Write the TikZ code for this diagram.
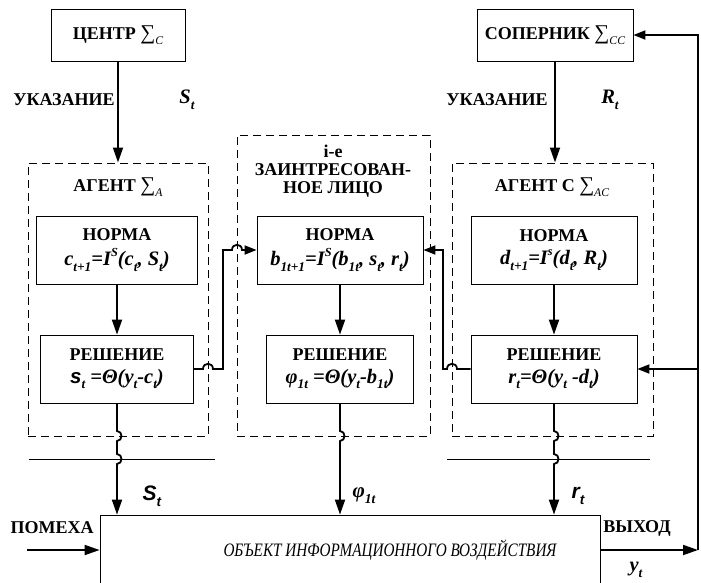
\documentclass[tikz,border=0pt]{standalone}
\usepackage{fontspec}
\setmainfont{Liberation Serif}
\newfontfamily\sansf{Liberation Sans}
\usetikzlibrary{arrows.meta}
\newcommand\lo[1]{\raisebox{-0.28em}{\scalebox{0.65}{#1}}}
\newcommand\hi[1]{\raisebox{0.45em}{\scalebox{0.6}{#1}}}
\newcommand\lbl{\fontsize{18}{18}\selectfont\bfseries}
\newcommand\fml{\fontsize{20.5}{22}\selectfont\bfseries\itshape}
\newcommand\smb[1]{{\fontsize{21}{21}\selectfont\mdseries\upshape ∑}\lo{\mdseries\itshape #1}}
\begin{document}
\begin{tikzpicture}[x=1pt,y=-1pt,
  box/.style={draw, line width=0.8pt, inner sep=0pt, align=center},
  dbox/.style={draw, dash pattern=on 8pt off 5pt, line width=1pt, inner sep=0pt},
  conn/.style={line width=1.8pt},
  arr/.style={conn, -{Triangle[length=15pt,width=10pt]}},
  harr/.style={conn, -{Triangle[length=12pt,width=9pt]}},
  txt/.style={inner sep=0pt, align=center},
  thinl/.style={line width=0.7pt}]
\useasboundingbox (0,0) rectangle (701,582);
\clip (0,0) rectangle (701,582);

% top boxes
\node[box, minimum width=134, minimum height=52, font=\lbl] (centr) at (118,35) {ЦЕНТР \smb{C}};
\node[box, minimum width=156, minimum height=52, font=\lbl] (sop) at (555,35) {СОПЕРНИК \smb{CC}};

% dashed groups
\node[dbox, minimum width=180, minimum height=273] (agA) at (118,299.5) {};
\node[dbox, minimum width=193, minimum height=301] (agB) at (333.5,285.5) {};
\node[dbox, minimum width=201, minimum height=273] (agC) at (552.5,299.5) {};

\node[txt, font=\lbl] (agAl) at (118,187) {АГЕНТ \smb{A}};
\node[txt, font=\lbl] (agBl) at (333,171) {i-e\\[0pt] ЗАИНТРЕСОВАН-\\[0pt] НОЕ ЛИЦО};
\node[txt, font=\lbl] (agCl) at (552,187) {АГЕНТ С \smb{AC}};

% inner boxes
\node[box, minimum width=161, minimum height=68] (normA) at (117,250) {{\lbl НОРМА}\\[7pt]{\fml c\lo{t+1}=I\hi{S}(c\lo{t}, S\lo{t})}};
\node[box, minimum width=153, minimum height=68] (reshA) at (117,369) {{\lbl РЕШЕНИЕ}\\[7pt]{\fml {\sansf s}\lo{t} =Θ(y\lo{t}-c\lo{t})}};
\node[box, minimum width=166, minimum height=68] (normB) at (340,250) {{\lbl НОРМА}\\[7pt]{\fml b\lo{1t+1}=I\hi{S}(b\lo{1t}, s\lo{t}, r\lo{t})}};
\node[box, minimum width=147, minimum height=68] (reshB) at (340,369) {{\lbl РЕШЕНИЕ}\\[7pt]{\fml φ\lo{1t} =Θ(y\lo{t}-b\lo{1t})}};
\node[box, minimum width=166, minimum height=68] (normC) at (554,250) {{\lbl НОРМА}\\[7pt]{\fml d\lo{t+1}=I\hi{s}(d\lo{t}, R\lo{t})}};
\node[box, minimum width=166, minimum height=68] (reshC) at (554,369) {{\lbl РЕШЕНИЕ}\\[7pt]{\fml r\lo{t}=Θ(y\lo{t} -d\lo{t})}};

% object
\node[box, minimum width=500, minimum height=70] (obj) at (350,550) {};
\node[txt] (objl) at (390,550) {\scalebox{0.8}[1]{\fontsize{19}{20}\selectfont\itshape ОБЪЕКТ ИНФОРМАЦИОННОГО ВОЗДЕЙСТВИЯ}};

% labels
\node[txt, font=\lbl] (ukA) at (64,100) {УКАЗАНИЕ};
\node[txt] (StA) at (187,100) {\fml S\lo{t}};
\node[txt, font=\lbl] (ukC) at (497,100) {УКАЗАНИЕ};
\node[txt] (RtC) at (610,100) {\fml R\lo{t}};
\node[txt] (Sb) at (152,496) {\fontsize{21}{22}\selectfont\sansf\bfseries\itshape S\lo{t}};
\node[txt] (phb) at (364,496) {\fontsize{21}{22}\selectfont\bfseries\itshape φ\lo{1t}};
\node[txt] (rb) at (578,496) {\fontsize{21}{22}\selectfont\sansf\bfseries\itshape r\lo{t}};
\node[txt, font=\lbl] (pom) at (52,528) {ПОМЕХА};
\node[txt, font=\lbl] (vyh) at (637,528) {ВЫХОД};
\node[txt] (yt) at (636,570) {\fml y\lo{t}};

% thin lines
\coordinate (tl1) at (29,459); \coordinate (tl2) at (215,459);
\coordinate (tr1) at (447,459); \coordinate (tr2) at (650,459);
\draw[thinl] (tl1) -- (tl2);
\draw[thinl] (tr1) -- (tr2);

% connectors top
\draw[arr] (centr.south -| agAl) -- (agA.north -| agAl);
\draw[arr] (sop.south) -- (sop.south |- agC.north);

% inside connectors
\draw[arr] (normA.south) -- (reshA.north);
\draw[arr] (normB.south) -- (reshB.north);
\draw[arr] (normC.south) -- (reshC.north);

% cross connectors
\coordinate (kA) at (223,369);
\coordinate (kC) at (443,369);
\draw[harr] (reshA.east) -- (203,369) .. controls (203,362) and (213,362) .. (213,369) -- (kA) -- (kA |- normB.west) -- (232,250) .. controls (232,243) and (242,243) .. (242,250) -- (normB.west);
\draw[harr] (reshC.west) -- (457,369) .. controls (457,362) and (447,362) .. (447,369) -- (kC) -- (kC |- normB.east) -- (normB.east);

% down to object
\draw[arr] (reshA.south) -- (117,431) .. controls (123,431) and (123,441) .. (117,441) -- (117,454) .. controls (123,454) and (123,464) .. (117,464) -- (obj.north -| reshA.south);
\draw[arr] (reshB.south) -- (340,431) .. controls (346,431) and (346,441) .. (340,441) -- (obj.north -| reshB.south);
\draw[arr] (reshC.south) -- (554,431) .. controls (560,431) and (560,441) .. (554,441) -- (554,454) .. controls (560,454) and (560,464) .. (554,464) -- (obj.north -| reshC.south);

% input / output / feedback
\coordinate (inp) at (27,550);
\coordinate (fbA) at (698,550);
\draw[arr] (inp) -- (obj.west);
\draw[arr] (obj.east) -- (fbA);
\draw[harr] (fbA) |- (sop.east);
\draw[harr] (fbA |- reshC.east) -- (reshC.east);
\end{tikzpicture}
\end{document}
